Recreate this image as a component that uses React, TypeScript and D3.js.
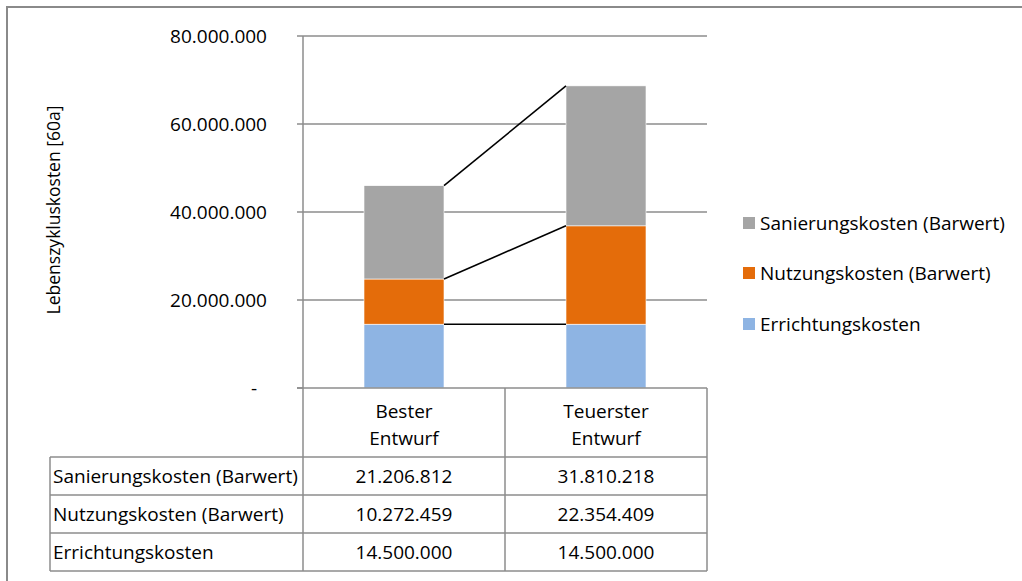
import React from "react";
import * as d3 from "d3";

// Lifecycle-cost comparison of two building designs (60-year horizon)
const categories = ["Bester Entwurf", "Teuerster Entwurf"];
const categoryLines = [["Bester", "Entwurf"], ["Teuerster", "Entwurf"]];
const seriesNames = ["Errichtungskosten", "Nutzungskosten (Barwert)", "Sanierungskosten (Barwert)"];
const errichtung = [14500000, 14500000];
const nutzung = [10272459, 22354409];
const sanierung = [21206812, 31810218];
const yTicks = [0, 20000000, 40000000, 60000000, 80000000];

const colors = ["#8EB4E3", "#E46C0A", "#A5A5A5"];
const FONT = "'Open Sans', 'Noto Sans', sans-serif";
const FS = 19;
const GRID = "#8C8C8C";

const fmtDE = (v: number) =>
  v === 0 ? "-" : d3.format(",.0f")(v).replace(/,/g, ".");

export default function App() {
  const W = 1022, H = 581;
  const plot = { left: 303, right: 707, top: 36, bottom: 388 };

  const rows = categories.map((c, i) => ({
    cat: c,
    [seriesNames[0]]: errichtung[i],
    [seriesNames[1]]: nutzung[i],
    [seriesNames[2]]: sanierung[i],
  }));
  const stacked = d3.stack<any>().keys(seriesNames)(rows);

  const x = d3.scaleBand<string>()
    .domain(categories)
    .range([plot.left, plot.right])
    .paddingInner(0.604)
    .paddingOuter(0.302);
  const y = d3.scaleLinear().domain([0, 80000000]).range([plot.bottom, plot.top]);
  const bw = x.bandwidth();

  // table geometry
  const tableLeft = 50;
  const colEdges = [plot.left, plot.left + x.step(), plot.right];
  const rowEdges = [457, 495, 533, 571];
  const tableSeries = [
    { name: seriesNames[2], values: sanierung },
    { name: seriesNames[1], values: nutzung },
    { name: seriesNames[0], values: errichtung },
  ];
  const legendItems = [
    { name: seriesNames[2], color: colors[2], y: 223 },
    { name: seriesNames[1], color: colors[1], y: 273 },
    { name: seriesNames[0], color: colors[0], y: 324 },
  ];

  return (
    <svg width={W} height={H} style={{ position: "fixed", left: 0, top: 0, background: "#fff" }}
      fontFamily={FONT} fontSize={FS}>
      <rect x={0} y={0} width={W} height={H} fill="#fff" />
      {/* outer chart frame */}
      <path d={`M7,${H + 2} V7 H${W + 2}`} fill="none" stroke="#8A8A8A" strokeWidth={2} />

      {/* gridlines and ticks */}
      {yTicks.map((t) => (
        <g key={t}>
          {t !== 0 && (
            <line x1={plot.left} x2={plot.right} y1={y(t)} y2={y(t)} stroke={GRID} strokeWidth={1.5} />
          )}
          <line x1={plot.left - 6} x2={plot.left} y1={y(t)} y2={y(t)} stroke={GRID} strokeWidth={1.5} />
          <text x={t === 0 ? 257 : 267} y={y(t)} dy="0.35em" textAnchor="end" fill="#000">
            {fmtDE(t)}
          </text>
        </g>
      ))}
      <line x1={plot.left} x2={plot.left} y1={plot.top} y2={plot.bottom} stroke={GRID} strokeWidth={1.5} />

      {/* stacked bars */}
      {stacked.map((s, si) => (
        <g key={s.key}>
          {s.map((d, i) => (
            <rect key={i} x={x(categories[i])} width={bw} y={y(d[1])} height={y(d[0]) - y(d[1])}
              fill={colors[si]} stroke="#fff" strokeWidth={0.6} />
          ))}
        </g>
      ))}

      {/* connector lines between the tops of each segment */}
      {stacked.map((s) => (
        <line key={"c" + s.key}
          x1={(x(categories[0]) as number) + bw} y1={y(s[0][1])}
          x2={x(categories[1]) as number} y2={y(s[1][1])}
          stroke="#000" strokeWidth={1.6} />
      ))}

      {/* y axis title */}
      <text transform={`translate(54,${(plot.top + plot.bottom) / 2 - 2}) rotate(-90)`} textAnchor="middle"
        dy="0.35em" fontSize={17.5}>
        Lebenszykluskosten [60a]
      </text>

      {/* data table */}
      <g stroke={GRID} strokeWidth={1.5} fill="none">
        <line x1={plot.left - 6} x2={plot.right} y1={plot.bottom} y2={plot.bottom} />
        {colEdges.map((cx, i) => (
          <line key={"v" + i} x1={cx} x2={cx} y1={plot.bottom} y2={rowEdges[rowEdges.length - 1]} />
        ))}
        <line x1={tableLeft} x2={tableLeft} y1={rowEdges[0]} y2={rowEdges[rowEdges.length - 1]} />
        {rowEdges.map((ry, i) => (
          <line key={"h" + i} x1={tableLeft} x2={plot.right} y1={ry} y2={ry} />
        ))}
      </g>
      {categoryLines.map((lines, i) => (
        <text key={"cat" + i} x={(x(categories[i]) as number) + bw / 2} textAnchor="middle">
          {lines.map((l, li) => (
            <tspan key={li} x={(x(categories[i]) as number) + bw / 2} y={411 + li * 27} dy="0.35em">{l}</tspan>
          ))}
        </text>
      ))}
      {tableSeries.map((row, ri) => {
        const cy = (rowEdges[ri] + rowEdges[ri + 1]) / 2;
        return (
          <g key={"r" + ri}>
            <text x={tableLeft + 3} y={cy} dy="0.35em">{row.name}</text>
            {row.values.map((v, ci) => (
              <text key={ci} x={(x(categories[ci]) as number) + bw / 2} y={cy} dy="0.35em" textAnchor="middle">
                {fmtDE(v)}
              </text>
            ))}
          </g>
        );
      })}

      {/* legend */}
      {legendItems.map((it) => (
        <g key={"l" + it.name}>
          <rect x={743} y={it.y - 6} width={12} height={12} fill={it.color} />
          <text x={760} y={it.y} dy="0.35em">{it.name}</text>
        </g>
      ))}
    </svg>
  );
}
